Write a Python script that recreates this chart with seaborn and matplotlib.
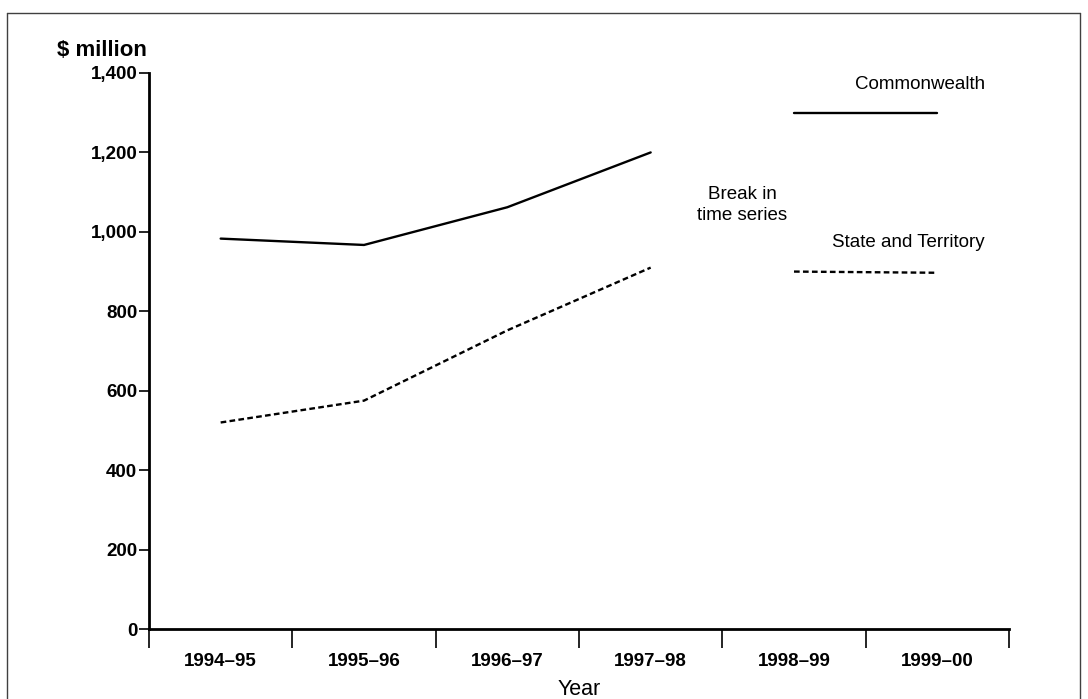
import pandas as pd
import seaborn as sns
import matplotlib.pyplot as plt
from matplotlib.lines import Line2D
from matplotlib.ticker import FixedLocator, NullFormatter, FuncFormatter

# =========================
# 1. Data
# =========================
years = ["1994–95", "1995–96", "1996–97", "1997–98", "1998–99", "1999–00"]
commonwealth = [983, 967, 1062, 1200, 1300, 1300]
state_territory = [520, 575, 752, 910, 900, 897]
# break in time series after 1997-98
segment = ["before", "before", "before", "before", "after", "after"]

rows = []
for name, vals in [("Commonwealth", commonwealth), ("State and Territory", state_territory)]:
    for i, v in enumerate(vals):
        rows.append({"pos": i, "value": v, "series": name, "segment": segment[i]})
df = pd.DataFrame(rows)

# =========================
# 2. Style
# =========================
sns.set_style("white")
plt.rcParams["font.family"] = ["Liberation Sans", "DejaVu Sans"]
plt.rcParams["text.color"] = "black"
plt.rcParams["xtick.color"] = "black"
plt.rcParams["ytick.color"] = "black"
plt.rcParams["axes.labelcolor"] = "black"

fig = plt.figure(figsize=(10.88, 6.99), dpi=100)
ax = fig.add_axes([149 / 1088, 70 / 699, 860 / 1088, 556 / 699])

sns.lineplot(
    data=df, x="pos", y="value", style="series", units="segment",
    estimator=None, color="black", linewidth=1.7, legend=False,
    dashes={"Commonwealth": "", "State and Territory": (2.4, 1.4)}, ax=ax,
)

# =========================
# 3. Axes
# =========================
ax.set_xlim(-0.5, len(years) - 0.5)
ax.set_ylim(0, 1400)

ax.xaxis.set_major_locator(FixedLocator([i - 0.5 for i in range(len(years) + 1)]))
ax.xaxis.set_major_formatter(NullFormatter())
ax.xaxis.set_minor_locator(FixedLocator(list(range(len(years)))))
ax.set_xticklabels(years, minor=True, fontweight="bold", fontsize=13.5)
ax.tick_params(axis="x", which="major", direction="out", length=14, width=1.2, color="black", bottom=True)
ax.tick_params(axis="x", which="minor", length=0, pad=17)

ax.set_yticks(range(0, 1401, 200))
ax.yaxis.set_major_formatter(FuncFormatter(lambda v, p: f"{int(v):,}"))
ax.tick_params(axis="y", direction="out", length=7, width=1.2, color="black", left=True, pad=1.5, labelsize=13.5)
for lbl in ax.get_yticklabels():
    lbl.set_fontweight("bold")

for s in ["top", "right"]:
    ax.spines[s].set_visible(False)
for s in ["left", "bottom"]:
    ax.spines[s].set_color("black")
    ax.spines[s].set_linewidth(2)

ax.set_ylabel("")
ax.set_xlabel("Year", fontsize=15.5, labelpad=7)

# =========================
# 4. Labels
# =========================
fig.text(147 / 1088, 1 - 50 / 699, "$ million", ha="right", va="center", fontsize=16, fontweight="bold")
ax.text(5.33, 1370, "Commonwealth", ha="right", va="center", fontsize=13.5)
ax.text(5.33, 973, "State and Territory", ha="right", va="center", fontsize=13.5)
ax.text(3.64, 1068, "Break in\ntime series", ha="center", va="center", fontsize=13.5, linespacing=1.35)

# outer border
bx0, bx1, by0 = 7 / 1088, 1080 / 1088, 1 - 13 / 699
for xs, ys in [([bx0, bx1], [by0, by0]), ([bx0, bx0], [by0, 0]), ([bx1, bx1], [by0, 0])]:
    fig.add_artist(Line2D(xs, ys, transform=fig.transFigure, color="#404040", linewidth=1))

plt.savefig("out.png", dpi=100)
